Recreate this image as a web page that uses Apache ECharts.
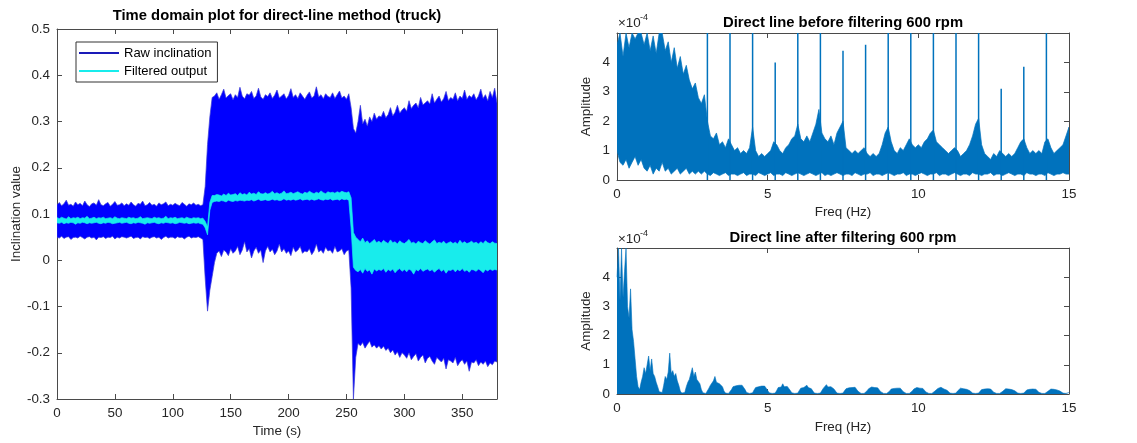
<!DOCTYPE html>
<html><head><meta charset="utf-8">
<script src="https://cdn.jsdelivr.net/npm/echarts@6/dist/echarts.min.js"></script>
<style>html,body{margin:0;padding:0;background:#fff}#c{width:1137px;height:443px}</style>
</head><body><div id="c"></div>
<script>
// ---------- Left: time domain (envelopes, one sample every 2 s) ----------
const tStep = 2;
const rawUpper = [
0.120,0.125,0.118,0.122,0.130,0.119,0.121,0.117,0.126,0.120,
0.123,0.118,0.128,0.120,0.116,0.122,0.124,0.119,0.131,0.120,
0.118,0.122,0.125,0.117,0.121,0.127,0.119,0.120,0.124,0.118,
0.122,0.119,0.126,0.120,0.117,0.123,0.121,0.128,0.118,0.120,
0.125,0.119,0.121,0.117,0.124,0.120,0.122,0.126,0.118,0.121,
0.119,0.123,0.120,0.118,0.125,0.121,0.117,0.122,0.120,0.124,
0.119,0.121,0.118,0.120,0.160,0.250,0.310,0.352,0.355,0.362,
0.348,0.358,0.370,0.351,0.356,0.360,0.347,0.358,0.352,0.374,
0.355,0.349,0.360,0.357,0.365,0.350,0.355,0.372,0.353,0.348,
0.358,0.354,0.362,0.350,0.357,0.368,0.351,0.355,0.360,0.349,
0.356,0.371,0.352,0.358,0.350,0.362,0.355,0.348,0.357,0.364,
0.351,0.355,0.375,0.353,0.358,0.349,0.360,0.354,0.352,0.362,
0.350,0.358,0.366,0.351,0.355,0.348,0.360,0.330,0.285,0.275,
0.300,0.335,0.295,0.305,0.290,0.310,0.300,0.318,0.305,0.312,
0.310,0.322,0.308,0.315,0.330,0.312,0.320,0.335,0.318,0.325,
0.330,0.322,0.345,0.328,0.335,0.340,0.330,0.352,0.336,0.340,
0.345,0.338,0.360,0.340,0.348,0.355,0.342,0.350,0.365,0.345,
0.352,0.348,0.362,0.345,0.355,0.350,0.368,0.348,0.356,0.352,
0.360,0.347,0.355,0.370,0.350,0.358,0.345,0.365,0.352,0.372,
0.340];
const rawLower = [
0.050,0.048,0.052,0.047,0.050,0.051,0.045,0.049,0.050,0.048,
0.052,0.049,0.046,0.050,0.051,0.048,0.050,0.044,0.050,0.049,
0.051,0.047,0.050,0.049,0.052,0.046,0.050,0.048,0.051,0.050,
0.048,0.050,0.052,0.047,0.049,0.050,0.046,0.051,0.049,0.050,
0.047,0.050,0.051,0.048,0.050,0.045,0.049,0.052,0.048,0.050,
0.050,0.047,0.051,0.049,0.050,0.046,0.050,0.052,0.048,0.050,
0.049,0.051,0.048,0.045,-0.040,-0.110,-0.065,-0.035,-0.005,0.015,
0.020,0.008,0.022,0.018,0.010,0.025,0.015,0.020,0.030,0.012,
0.022,0.040,0.018,0.025,0.005,0.020,0.028,0.015,0.022,-0.005,
0.020,0.030,0.018,0.024,0.012,0.020,0.035,0.018,0.025,0.015,
0.020,0.010,0.028,0.018,0.022,0.030,0.015,0.020,0.018,0.025,
0.012,0.020,0.035,0.018,0.022,0.015,0.028,0.020,0.022,0.015,
0.030,0.018,0.020,0.025,0.012,0.020,0.022,-0.060,-0.300,-0.210,
-0.180,-0.185,-0.178,-0.190,-0.182,-0.175,-0.188,-0.183,-0.190,-0.185,
-0.192,-0.186,-0.195,-0.190,-0.200,-0.194,-0.205,-0.198,-0.210,-0.200,
-0.205,-0.212,-0.200,-0.215,-0.208,-0.202,-0.218,-0.210,-0.205,-0.222,
-0.212,-0.208,-0.218,-0.225,-0.210,-0.215,-0.220,-0.212,-0.235,-0.215,
-0.218,-0.222,-0.210,-0.228,-0.220,-0.215,-0.225,-0.218,-0.240,-0.220,
-0.222,-0.215,-0.228,-0.220,-0.225,-0.218,-0.230,-0.222,-0.226,-0.218,
-0.220];
const filtUpper = [
0.092,0.090,0.093,0.091,0.089,0.094,0.090,0.092,0.091,0.093,
0.090,0.092,0.091,0.095,0.090,0.091,0.093,0.090,0.092,0.091,
0.093,0.090,0.091,0.092,0.090,0.094,0.091,0.090,0.092,0.091,
0.090,0.093,0.091,0.092,0.090,0.091,0.094,0.090,0.091,0.092,
0.091,0.090,0.093,0.091,0.092,0.090,0.091,0.095,0.090,0.092,
0.091,0.093,0.090,0.091,0.092,0.090,0.093,0.091,0.090,0.092,
0.091,0.092,0.090,0.091,0.084,0.072,0.125,0.140,0.140,0.142,
0.141,0.139,0.143,0.140,0.145,0.141,0.142,0.144,0.140,0.146,
0.142,0.144,0.141,0.147,0.143,0.145,0.142,0.148,0.144,0.143,
0.146,0.143,0.145,0.149,0.144,0.146,0.143,0.145,0.150,0.144,
0.145,0.147,0.144,0.146,0.148,0.145,0.143,0.147,0.145,0.149,
0.146,0.144,0.147,0.145,0.150,0.146,0.144,0.148,0.146,0.147,
0.145,0.148,0.146,0.149,0.147,0.146,0.148,0.135,0.060,0.050,
0.045,0.040,0.048,0.038,0.042,0.036,0.040,0.045,0.038,0.041,
0.037,0.043,0.039,0.036,0.044,0.038,0.040,0.035,0.042,0.038,
0.036,0.040,0.045,0.037,0.039,0.035,0.041,0.038,0.036,0.042,
0.038,0.035,0.040,0.044,0.036,0.039,0.037,0.041,0.035,0.038,
0.040,0.036,0.039,0.035,0.043,0.037,0.040,0.036,0.038,0.041,
0.037,0.039,0.035,0.040,0.036,0.042,0.038,0.036,0.040,0.037,
0.036];
const filtLower = [
0.081,0.080,0.082,0.079,0.081,0.080,0.082,0.081,0.078,0.081,
0.080,0.082,0.081,0.079,0.081,0.080,0.081,0.082,0.080,0.079,
0.081,0.080,0.082,0.081,0.079,0.080,0.081,0.082,0.080,0.081,
0.082,0.080,0.079,0.081,0.080,0.082,0.081,0.080,0.078,0.081,
0.080,0.081,0.082,0.080,0.079,0.081,0.080,0.082,0.081,0.080,
0.081,0.079,0.080,0.082,0.081,0.080,0.081,0.079,0.080,0.081,
0.080,0.081,0.079,0.078,0.070,0.055,0.108,0.125,0.127,0.128,
0.127,0.129,0.128,0.126,0.130,0.128,0.127,0.129,0.128,0.130,
0.129,0.128,0.130,0.129,0.131,0.128,0.130,0.132,0.129,0.130,
0.131,0.129,0.130,0.132,0.130,0.131,0.129,0.130,0.133,0.130,
0.131,0.130,0.132,0.130,0.131,0.133,0.130,0.131,0.132,0.130,
0.132,0.130,0.131,0.133,0.131,0.130,0.132,0.131,0.133,0.130,
0.131,0.132,0.130,0.133,0.131,0.132,0.130,0.070,-0.015,-0.022,
-0.025,-0.020,-0.028,-0.018,-0.024,-0.021,-0.030,-0.019,-0.023,-0.020,
-0.022,-0.018,-0.026,-0.020,-0.023,-0.019,-0.027,-0.021,-0.018,-0.024,
-0.020,-0.025,-0.019,-0.022,-0.030,-0.020,-0.023,-0.018,-0.024,-0.021,
-0.019,-0.023,-0.020,-0.026,-0.021,-0.018,-0.024,-0.020,-0.028,-0.021,
-0.022,-0.019,-0.025,-0.020,-0.023,-0.018,-0.024,-0.021,-0.026,-0.020,
-0.021,-0.024,-0.019,-0.022,-0.027,-0.020,-0.023,-0.019,-0.022,-0.020,
-0.021];

// ---------- Right top: spectrum before filtering (units of 1e-4, one sample every 0.1 Hz) ----------
const fStepBefore = 0.1;
const specBeforeUpper = [
4.6,5.0,4.2,5.0,4.5,5.0,4.8,5.0,5.0,4.6,
5.0,4.4,4.9,4.3,5.0,5.0,4.4,4.7,4.0,4.5,
3.8,4.2,3.6,3.9,3.4,3.1,3.3,2.8,2.6,2.9,
2.0,1.5,1.4,1.6,1.2,1.3,1.1,1.4,1.2,1.0,
1.1,0.9,1.0,0.9,1.1,1.8,1.0,0.8,0.9,0.8,
0.9,1.0,1.3,1.2,1.0,0.9,1.1,1.2,1.4,1.5,
1.9,1.4,1.3,1.5,1.3,1.6,1.9,2.4,1.6,1.4,
1.3,1.5,1.2,1.6,1.8,2.0,1.1,1.0,0.9,1.0,
0.9,1.0,1.1,0.9,0.8,0.9,0.8,0.9,1.2,1.6,
1.8,1.3,1.0,0.9,1.1,1.0,1.2,1.4,1.2,1.1,
1.2,1.1,1.3,1.4,1.6,1.7,1.3,1.2,1.1,1.0,
0.9,1.0,1.1,1.0,0.8,0.9,1.0,1.2,1.5,1.9,
2.1,1.2,0.9,0.8,0.7,0.9,0.8,1.0,0.9,0.8,
0.9,0.8,0.9,1.1,1.3,1.4,1.1,0.9,1.0,0.9,
1.0,0.9,1.3,1.4,1.1,0.9,1.0,1.1,1.2,1.5,
1.8];
const specBeforeLower = [
1.0,0.6,0.5,0.7,0.4,0.6,0.8,0.5,0.7,0.4,
0.3,0.5,0.2,0.4,0.3,0.6,0.3,0.4,0.2,0.3,
0.4,0.2,0.3,0.4,0.2,0.3,0.2,0.3,0.2,0.3,
0.2,0.15,0.25,0.2,0.15,0.2,0.25,0.15,0.2,0.2,
0.15,0.2,0.25,0.15,0.2,0.2,0.15,0.25,0.2,0.15,
0.2,0.25,0.15,0.2,0.2,0.15,0.25,0.2,0.15,0.2,
0.25,0.2,0.15,0.2,0.25,0.2,0.15,0.2,0.25,0.15,
0.2,0.15,0.2,0.25,0.2,0.15,0.2,0.2,0.15,0.25,
0.2,0.15,0.2,0.2,0.25,0.15,0.2,0.2,0.15,0.2,
0.25,0.2,0.15,0.2,0.2,0.25,0.15,0.2,0.2,0.15,
0.2,0.25,0.2,0.15,0.2,0.2,0.25,0.15,0.2,0.2,
0.15,0.2,0.25,0.2,0.15,0.2,0.2,0.15,0.25,0.2,
0.2,0.15,0.2,0.2,0.25,0.15,0.2,0.2,0.15,0.2,
0.25,0.2,0.15,0.2,0.2,0.15,0.25,0.2,0.2,0.15,
0.2,0.2,0.15,0.25,0.2,0.15,0.2,0.2,0.25,0.2,
0.2];
const peakFreq = [3.0,3.75,4.5,5.25,6.0,6.75,7.5,8.25,9.0,9.75,10.5,11.25,12.0,12.75,13.5,14.25];
const peakAmp  = [5.0,5.0,5.0,4.0,5.0,5.0,4.4,4.6,5.0,5.0,5.0,5.0,5.0,3.1,3.85,5.0];

// ---------- Right bottom: spectrum after filtering (units of 1e-4, one sample every 0.05 Hz) ----------
const fStepAfter = 0.05;
const specAfter = [
4.0,5.0,3.2,5.0,3.3,4.2,5.0,3.0,2.6,3.6,2.2,1.8,1.2,0.6,0.25,
0.15,0.4,0.6,0.9,0.7,1.0,1.3,0.8,1.2,0.7,0.6,0.4,0.25,0.08,0.03,
0.05,0.3,0.6,0.5,0.75,1.4,0.7,0.8,0.6,0.7,0.45,0.3,0.1,0.03,0.02,
0.05,0.25,0.4,0.5,0.45,0.9,0.6,0.75,0.5,0.55,0.35,0.15,0.04,0.02,0.02,
0.05,0.2,0.3,0.35,0.45,0.6,0.4,0.42,0.35,0.38,0.25,0.1,0.03,0.02,0.02,
0.04,0.15,0.25,0.3,0.28,0.33,0.3,0.26,0.3,0.24,0.15,0.05,0.02,0.02,0.02,
0.04,0.14,0.22,0.28,0.25,0.3,0.27,0.24,0.27,0.2,0.12,0.04,0.02,0.02,0.02,
0.03,0.12,0.22,0.26,0.24,0.35,0.25,0.24,0.26,0.2,0.12,0.04,0.02,0.02,0.02,
0.03,0.12,0.2,0.24,0.22,0.28,0.3,0.22,0.24,0.18,0.1,0.03,0.02,0.02,0.02,
0.03,0.12,0.2,0.24,0.32,0.24,0.22,0.25,0.22,0.17,0.1,0.03,0.02,0.02,0.02,
0.03,0.11,0.18,0.22,0.21,0.27,0.22,0.2,0.23,0.16,0.09,0.03,0.02,0.02,0.02,
0.03,0.11,0.18,0.22,0.24,0.2,0.22,0.19,0.21,0.15,0.08,0.03,0.02,0.02,0.02,
0.03,0.1,0.17,0.2,0.19,0.25,0.2,0.18,0.2,0.14,0.08,0.03,0.02,0.02,0.02,
0.03,0.1,0.17,0.2,0.22,0.19,0.2,0.17,0.19,0.13,0.07,0.03,0.02,0.02,0.02,
0.03,0.1,0.16,0.19,0.18,0.23,0.19,0.17,0.18,0.13,0.07,0.03,0.02,0.02,0.02,
0.03,0.1,0.16,0.2,0.22,0.18,0.19,0.16,0.18,0.12,0.07,0.03,0.02,0.02,0.02,
0.03,0.09,0.15,0.18,0.17,0.22,0.18,0.16,0.17,0.12,0.06,0.03,0.02,0.02,0.02,
0.03,0.09,0.15,0.18,0.2,0.17,0.18,0.15,0.17,0.11,0.06,0.03,0.02,0.02,0.02,
0.03,0.09,0.14,0.17,0.16,0.2,0.17,0.15,0.16,0.11,0.06,0.03,0.02,0.02,0.02,
0.03,0.09,0.14,0.17,0.2,0.16,0.17,0.14,0.16,0.1,0.05,0.03,0.02,0.02,0.02,
0.05];

const timeTicks = {min:0, max:380, interval:50};
const inclTicks = {min:-0.3, max:0.5, interval:0.1};
const freqTicks = {min:0, max:15, interval:5};
const ampTicks  = {min:0, max:5, interval:1};

// ---------- build ----------
function pairs(arr, step){ return arr.map((v,i)=>[+(i*step).toFixed(4), v]); }

const FONT = 'Liberation Sans, Arial, sans-serif';
const TXT = '#262626';
const LINE = '#4a4a4a';
const BLUE = '#0072bd';

// band between a lower and an upper envelope, drawn through the axis scales
function band(name, xi, yi, step, up, lo, fill, stroke, z){
  return {
    type:'custom', name, xAxisIndex:xi, yAxisIndex:yi, z, silent:true, clip:true,
    itemStyle:{color:fill},
    data: up.map((v,i)=>[+(i*step).toFixed(4), lo[i], v]),
    encode:{x:0, y:[1,2]},
    renderItem:(params, api)=>{
      if (params.dataIndex !== 0) return null;
      const pts = [];
      for (let i = 0; i < up.length; i++) pts.push(api.coord([i*step, up[i]]));
      for (let i = lo.length-1; i >= 0; i--) pts.push(api.coord([i*step, lo[i]]));
      return {type:'polygon', shape:{points:pts}, style:{fill:fill, stroke:stroke, lineWidth:0.7}};
    }
  };
}

function xAx(grid, t, top, name, gap, fmt){
  return {type:'value', gridIndex:grid, min:t.min, max:t.max, interval:t.interval,
    position: top?'top':'bottom',
    axisLine:{show:true,onZero:false,lineStyle:{color:LINE,width:1}},
    axisTick:{show:true,inside:true,length:5,lineStyle:{color:LINE,width:1}},
    axisLabel:{show:!top,color:TXT,fontSize:13.4,fontFamily:FONT,margin:8,formatter:fmt},
    splitLine:{show:false},
    name: top?'':name, nameLocation:'middle', nameGap:gap,
    nameTextStyle:{color:TXT,fontSize:13.4,fontFamily:FONT}};
}
function yAx(grid, t, right, name, gap, fmt){
  return {type:'value', gridIndex:grid, min:t.min, max:t.max, interval:t.interval,
    position: right?'right':'left',
    axisLine:{show:true,onZero:false,lineStyle:{color:LINE,width:1}},
    axisTick:{show:true,inside:true,length:5,lineStyle:{color:LINE,width:1}},
    axisLabel:{show:!right,color:TXT,fontSize:13.4,fontFamily:FONT,margin:7,formatter:fmt},
    splitLine:{show:false},
    name: right?'':name, nameLocation:'middle', nameGap:gap,
    nameTextStyle:{color:TXT,fontSize:13.4,fontFamily:FONT}};
}
const fmtTime = v => (Math.round(v) % 50 === 0 ? String(Math.round(v)) : '');
const fmtIncl = v => { const r = Math.round(v*10)/10; return r === 0 ? '0' : String(r); };
const fmtFreq = v => String(Math.round(v));
const fmtAmp  = v => (Math.round(v) >= 5 ? '' : String(Math.round(v)));

const titleStyle = {fontSize:14.8, fontWeight:'bold', color:'#000', fontFamily:FONT};

const option = {
  animation:false,
  backgroundColor:'#fff',
  title:[
    {text:'Time domain plot for direct-line method (truck)', left:277, top:8, textAlign:'center', padding:0, textStyle:titleStyle},
    {text:'Direct line before filtering 600 rpm', left:843, top:15, textAlign:'center', padding:0, textStyle:titleStyle},
    {text:'Direct line after filtering 600 rpm', left:843, top:230, textAlign:'center', padding:0, textStyle:titleStyle}
  ],
  grid:[
    {left:57, top:29, width:440, height:370},
    {left:617, top:33, width:452, height:147},
    {left:617, top:248, width:452, height:146}
  ],
  legend:{
    data:[
      {name:'Raw inclination', icon:'rect', itemStyle:{color:'#1a1ab8'}},
      {name:'Filtered output', icon:'rect', itemStyle:{color:'#18ecec'}}
    ],
    orient:'vertical', left:76, top:42, padding:[4,6,4,3], itemGap:4,
    itemWidth:40, itemHeight:2,
    backgroundColor:'#fff', borderColor:'#333', borderWidth:1,
    textStyle:{color:'#000', fontSize:13, fontFamily:FONT, lineHeight:14},
    selectedMode:false, z:10
  },
  xAxis:[
    xAx(0,timeTicks,false,'Time (s)',26,fmtTime), xAx(0,timeTicks,true),
    xAx(1,freqTicks,false,'Freq (Hz)',26,fmtFreq), xAx(1,freqTicks,true),
    xAx(2,freqTicks,false,'Freq (Hz)',27,fmtFreq), xAx(2,freqTicks,true)
  ],
  yAxis:[
    yAx(0,inclTicks,false,'Inclination value',34,fmtIncl), yAx(0,inclTicks,true),
    yAx(1,ampTicks,false,'Amplitude',24,fmtAmp), yAx(1,ampTicks,true),
    yAx(2,ampTicks,false,'Amplitude',24,fmtAmp), yAx(2,ampTicks,true)
  ],
  graphic:[
    {type:'text', left:618, top:17, style:{text:'×10', fill:TXT, font:'13.4px '+FONT}},
    {type:'text', left:640, top:13, style:{text:'-4', fill:TXT, font:'9px '+FONT}},
    {type:'text', left:618, top:233, style:{text:'×10', fill:TXT, font:'13.4px '+FONT}},
    {type:'text', left:640, top:229, style:{text:'-4', fill:TXT, font:'9px '+FONT}}
  ],
  series:[
    band('Raw inclination', 0, 0, tStep, rawUpper, rawLower, '#0000ff', '#3a3ad6', 2),
    band('Filtered output', 0, 0, tStep, filtUpper, filtLower, '#18ecec', '#18ecec', 3),
    band('Before filtering', 2, 2, fStepBefore, specBeforeUpper, specBeforeLower, BLUE, BLUE, 2),
    {name:'Harmonic peaks', type:'bar', xAxisIndex:2, yAxisIndex:2,
     data:peakFreq.map((f,i)=>[f,peakAmp[i]]), barWidth:1.5, silent:true, z:3,
     itemStyle:{color:BLUE}},
    {name:'After filtering', type:'line', xAxisIndex:4, yAxisIndex:4,
     data:pairs(specAfter,fStepAfter), symbol:'none', silent:true,
     itemStyle:{color:BLUE}, lineStyle:{width:0.6,color:BLUE},
     areaStyle:{color:BLUE, opacity:1, origin:'start'}}
  ]
};
const chart = echarts.init(document.getElementById('c'), null, {renderer:'canvas'});
chart.setOption(option);
const lens = [rawUpper.length, rawLower.length, filtUpper.length, filtLower.length, specBeforeUpper.length, specBeforeLower.length, specAfter.length].join(',');
if (lens !== '191,191,191,191,151,151,301') console.error('length mismatch: ' + lens);
</script></body></html>
